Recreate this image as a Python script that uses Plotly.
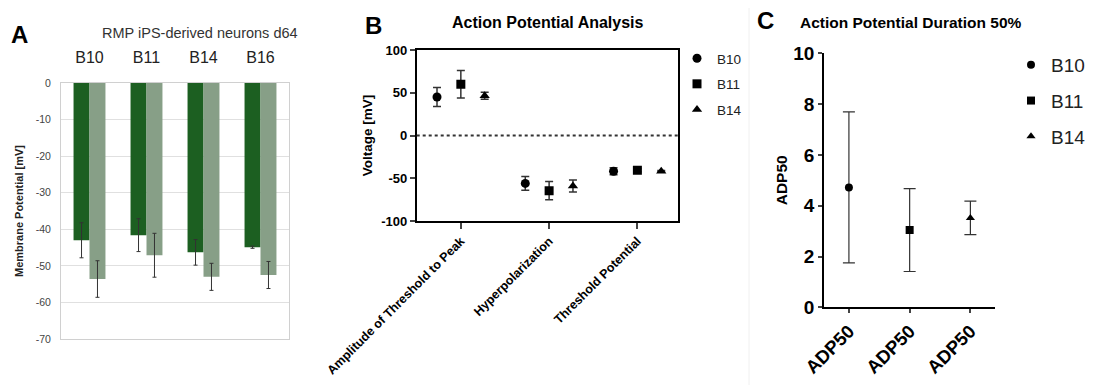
import plotly.graph_objects as go

# ---------------- Panel A data ----------------
a_groups = ["B10", "B11", "B14", "B16"]
a_dark = [-43.0, -41.6, -46.3, -44.9]
a_dark_err = [4.8, 4.5, 3.5, 0.3]
a_light = [-53.6, -47.1, -53.0, -52.5]
a_light_err = [5.0, 6.0, 3.7, 3.7]
a_yticks = [0, -10, -20, -30, -40, -50, -60, -70]

# ---------------- Panel B data ----------------
b_categories = ["Amplitude of Threshold to Peak", "Hyperpolarization", "Threshold Potential"]
b_series = ["B10", "B11", "B14"]
b_means = {
    "B10": [45.0, -56.0, -41.8],
    "B11": [60.0, -64.5, -40.5],
    "B14": [46.5, -59.0, -41.8],
}
b_errs = {
    "B10": [11.0, 8.0, 4.0],
    "B11": [16.0, 10.7, 2.0],
    "B14": [4.0, 7.0, 1.0],
}
b_yticks = [100, 50, 0, -50, -100]

# ---------------- Panel C data ----------------
c_labels = ["ADP50", "ADP50", "ADP50"]
c_series = ["B10", "B11", "B14"]
c_means = [4.72, 3.04, 3.52]
c_errs = [2.97, 1.63, 0.66]
c_yticks = [0, 2, 4, 6, 8, 10]

symbols = {"B10": "circle", "B11": "square", "B14": "triangle-up"}
b_offsets = {"B10": -0.27, "B11": 0.0, "B14": 0.27}

# page body has an 8px margin: figure sits at (8, 8)
OFF = 8
W, H = 1094 - OFF, 385 - OFF
def px(x): return (x - OFF) / W
def py(y): return 1 - (y - OFF) / H

FONT = "Liberation Sans, Arial, sans-serif"
DARK = "#1c5f21"
LIGHT = "#879f87"

fig = go.Figure()

# ---- Panel A bars ----
fig.add_trace(go.Bar(
    x=a_groups, y=a_dark, marker_color=DARK, marker_line_width=0,
    error_y=dict(type="data", array=a_dark_err, color="#333333", thickness=1, width=2),
    xaxis="x", yaxis="y", showlegend=False, offsetgroup="d"))
fig.add_trace(go.Bar(
    x=a_groups, y=a_light, marker_color=LIGHT, marker_line_width=0,
    error_y=dict(type="data", array=a_light_err, color="#333333", thickness=1, width=2),
    xaxis="x", yaxis="y", showlegend=False, offsetgroup="l"))

# ---- Panel B points ----
for s in b_series:
    xs = [k + b_offsets[s] for k in range(len(b_categories))]
    fig.add_trace(go.Scatter(
        x=xs, y=b_means[s], mode="markers", name=s,
        marker=dict(symbol=symbols[s], color="black", size=9),
        error_y=dict(type="data", array=b_errs[s], color="#333333", thickness=1.5, width=4),
        xaxis="x2", yaxis="y2", legend="legend", legendgroup="b" + s))

# ---- Panel C points ----
for i, s in enumerate(c_series):
    fig.add_trace(go.Scatter(
        x=[i], y=[c_means[i]], mode="markers", name=s,
        marker=dict(symbol=symbols[s], color="black", size=8),
        error_y=dict(type="data", array=[c_errs[i]], color="#333333", thickness=1.2, width=6),
        xaxis="x3", yaxis="y3", legend="legend2", legendgroup="c" + s))

fig.update_layout(
    width=W, height=H, margin=dict(l=0, r=0, t=0, b=0, autoexpand=False),
    paper_bgcolor="white", plot_bgcolor="white",
    font=dict(family=FONT, color="black"),
    barmode="group", bargap=0.44, bargroupgap=0.0,
    # Panel A axes
    xaxis=dict(domain=[px(61), px(289)], side="top", showgrid=False, automargin=False,
               tickfont=dict(size=16, color="#222222"), ticks="", ticklen=0,
               ticklabelstandoff=13,
               showline=True, linecolor="#d0d0d0", linewidth=1, mirror=True, anchor="y",
               zeroline=False),
    yaxis=dict(domain=[py(339), py(83)], range=[-70, 0], tickvals=a_yticks, automargin=False,
               ticktext=[str(v) for v in a_yticks],
               showgrid=True, gridcolor="#e0e0e0", gridwidth=1, zeroline=False,
               showline=True, linecolor="#d0d0d0", linewidth=1, mirror=True,
               tickfont=dict(size=10.5, color="#444444"), ticks="", ticklabelstandoff=7,
               title=dict(text="<b>Membrane Potential [mV]</b>", font=dict(size=11, color="#222222"),
                          standoff=9),
               anchor="x"),
    # Panel B axes
    xaxis2=dict(domain=[px(416.7), px(678)], range=[-0.5, 2.46], automargin=False,
                tickvals=[0, 1, 2], ticktext=["<b>%s</b>" % c for c in b_categories],
                tickangle=-45, tickfont=dict(size=12.5), ticks="outside", ticklen=6,
                tickwidth=1.5, showgrid=False, zeroline=False,
                showline=True, linecolor="black", linewidth=1.8, mirror=True, anchor="y2"),
    yaxis2=dict(domain=[py(221), py(50)], range=[-100, 100], tickvals=b_yticks, automargin=False,
                ticktext=["<b>%d</b>" % v for v in b_yticks],
                tickfont=dict(size=13), ticks="outside", ticklen=5, tickwidth=1.5,
                showgrid=False, zeroline=False,
                showline=True, linecolor="black", linewidth=1.8, mirror=True,
                title=dict(text="<b>Voltage [mV]</b>", font=dict(size=13.5), standoff=5),
                anchor="x2"),
    # Panel C axes
    xaxis3=dict(domain=[px(824), px(995.3)], range=[-0.41, 2.41], automargin=False,
                tickvals=[0, 1, 2], ticktext=["<b>%s</b>" % c for c in c_labels],
                tickangle=-45, tickfont=dict(size=18.5), ticks="outside", ticklen=4,
                tickwidth=1.5, showgrid=False, zeroline=False,
                showline=True, linecolor="black", linewidth=1.8, anchor="y3"),
    yaxis3=dict(domain=[py(307.3), py(53.3)], range=[0, 10], tickvals=c_yticks, automargin=False,
                ticktext=["<b>%d</b>" % v for v in c_yticks],
                tickfont=dict(size=19), ticks="outside", ticklen=4, tickwidth=1.5,
                showgrid=False, zeroline=False,
                showline=True, linecolor="black", linewidth=1.8,
                title=dict(text="<b>ADP50</b>", font=dict(size=15.5), standoff=2),
                anchor="x3"),
    legend=dict(x=px(677), y=py(43), xanchor="left", yanchor="top",
                font=dict(size=13.5, color="#222222"), bgcolor="rgba(0,0,0,0)",
                tracegroupgap=5, itemsizing="trace"),
    legend2=dict(x=px(1011), y=py(46), xanchor="left", yanchor="top",
                 font=dict(size=19, color="#222222"), bgcolor="rgba(0,0,0,0)",
                 tracegroupgap=8, itemsizing="trace"),
)

# zero dotted line in panel B
fig.add_shape(type="line", xref="x2 domain", yref="y2", x0=0, x1=1, y0=0, y1=0,
              line=dict(color="#333333", width=2, dash="dot"))
# faint separator before panel C
fig.add_shape(type="line", xref="paper", yref="paper", x0=px(749), x1=px(749), y0=0, y1=1,
              line=dict(color="#f0f0f0", width=1))

annots = [
    dict(text="<b>A</b>", x=px(9), y=py(35), size=24, xanchor="left"),
    dict(text="RMP iPS-derived neurons d64", x=px(100), y=py(33), size=14.5, xanchor="left",
         color="#333333"),
    dict(text="<b>B</b>", x=px(363), y=py(26), size=24, xanchor="left"),
    dict(text="<b>Action Potential Analysis</b>", x=px(548), y=py(22), size=16, xanchor="center"),
    dict(text="<b>C</b>", x=px(755), y=py(20), size=24, xanchor="left"),
    dict(text="<b>Action Potential Duration 50%</b>", x=px(798), y=py(22), size=15.5, xanchor="left"),
]
for a in annots:
    fig.add_annotation(text=a["text"], x=a["x"], y=a["y"], xref="paper", yref="paper",
                       xanchor=a["xanchor"], yanchor="middle", showarrow=False,
                       font=dict(size=a["size"], color=a.get("color", "black"), family=FONT))

fig.write_html("out.html")
